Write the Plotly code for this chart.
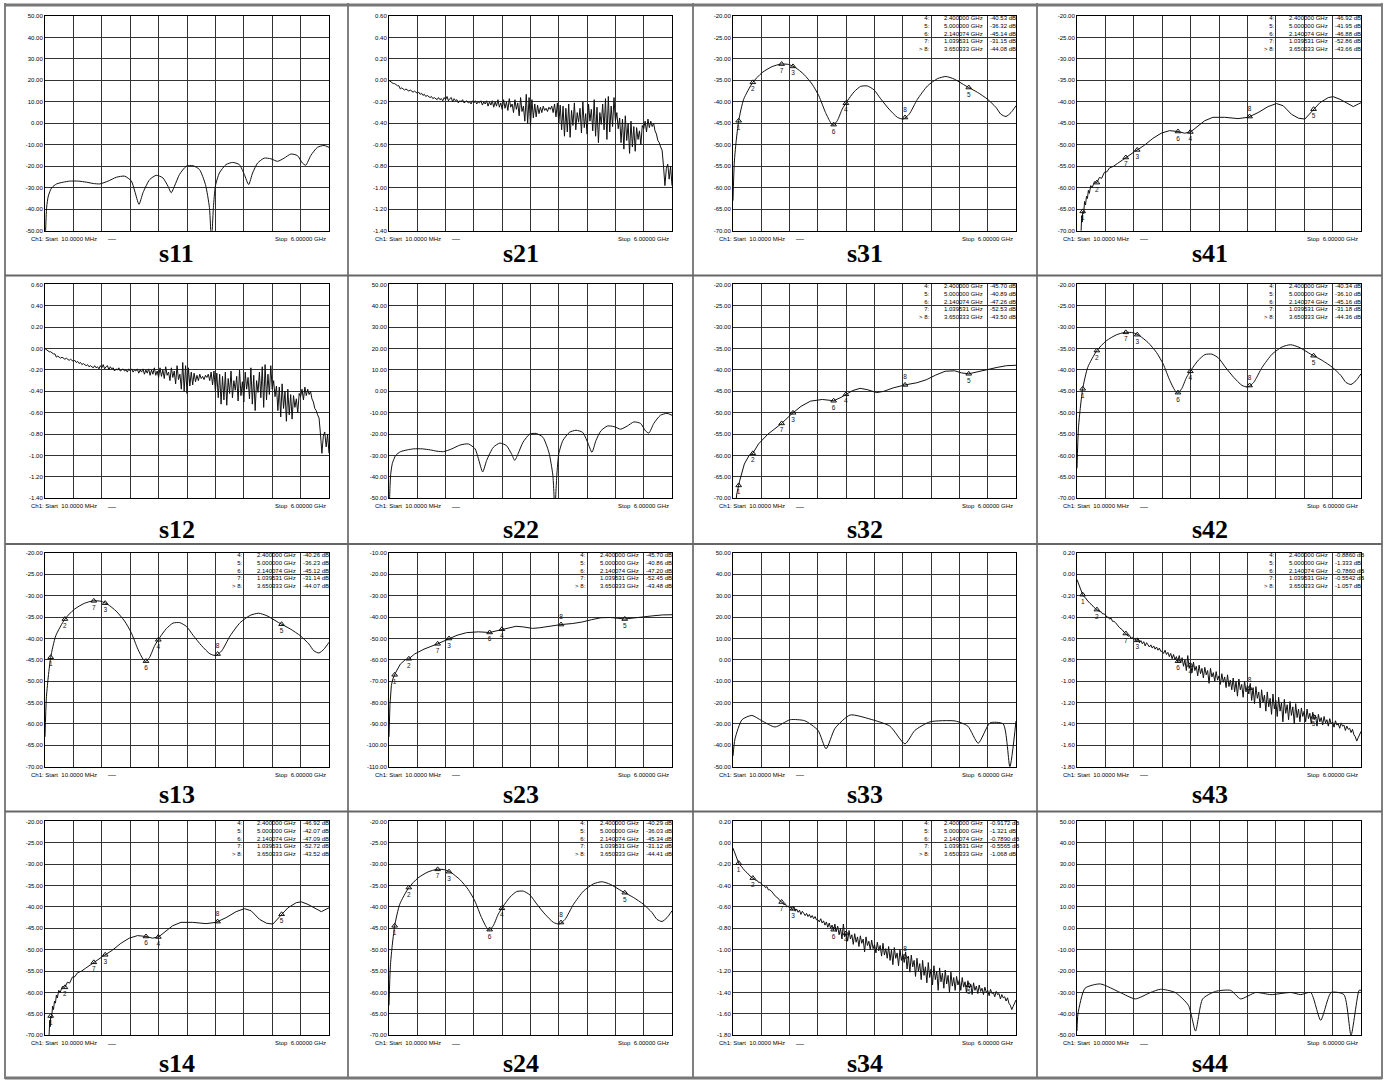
import numpy as np
import plotly.graph_objects as go

W, H = 1387, 1082
F_START, F_STOP = 0.01, 6.0

# ---------------- data (GHz, dB) ----------------
s11_f = [0.01, 0.024, 0.045, 0.08, 0.15, 0.255, 0.395, 0.535, 0.711, 0.886, 1.026, 1.166, 1.341, 1.516, 1.691,
         1.832, 1.902, 1.993, 2.077, 2.217, 2.357, 2.497, 2.602, 2.672, 2.742, 2.847, 2.988, 3.128, 3.268, 3.394,
         3.478, 3.52, 3.562, 3.604, 3.688, 3.828, 3.968, 4.108, 4.214, 4.305, 4.389, 4.494, 4.634, 4.774, 4.914,
         5.054, 5.194, 5.334, 5.44, 5.51, 5.615, 5.755, 5.895, 6.0]
s11_db = [-60, -49.2, -39, -33.8, -30, -28.2, -27.4, -26.9, -26.9, -27.4, -28, -28.2, -26.9, -25.1, -24.6,
          -26.9, -31.5, -37.7, -32.3, -26.2, -24.2, -25.4, -29.2, -32.3, -29.2, -23.8, -20, -19.7, -21.5, -28.5,
          -39.2, -55, -39.2, -29.2, -23.1, -19.2, -18.2, -19.2, -23.8, -28.5, -23.1, -18.5, -16.2, -16.5, -17.7,
          -16.2, -14.3, -15, -18.5, -19.5, -15, -11.2, -10.3, -11.2]

s33_f = [0.01, 0.052, 0.2, 0.41, 0.62, 0.9, 1.22, 1.53, 1.81, 1.98, 2.17, 2.49, 2.91, 3.33, 3.65, 3.86, 4.18,
         4.71, 4.98, 5.2, 5.45, 5.73, 5.87, 6.0]
s33_db = [-45, -37, -28, -26, -28.5, -31.4, -28, -28.5, -33, -41.6, -32, -25.8, -27.7, -31, -39.3, -33, -29,
          -28.6, -31, -39, -29.5, -30, -50, -28.6]

s44_f = [0.01, 0.03, 0.18, 0.5, 0.92, 1.24, 1.56, 1.77, 2.08, 2.36, 2.51, 2.66, 2.93, 3.25, 3.46, 3.78, 4.1,
         4.52, 4.73, 4.94, 5.15, 5.37, 5.64, 5.79, 5.96, 6.0]
s44_db = [-48, -40, -28, -26, -30, -33, -30, -28.5, -30, -36, -48, -33, -29.5, -29, -33, -30, -31,
          -30, -31, -30, -43, -30, -31, -50, -29, -29]

s31_f = [0.01, 0.038, 0.074, 0.13, 0.236, 0.427, 0.625, 0.837, 1.028, 1.19, 1.33, 1.51, 1.686, 1.827, 1.969,
         2.075, 2.132, 2.217, 2.322, 2.429, 2.57, 2.711, 2.853, 2.994, 3.136, 3.313, 3.489, 3.61, 3.737, 3.914,
         4.126, 4.338, 4.515, 4.692, 4.939, 5.187, 5.399, 5.576, 5.682, 5.788, 5.894, 6.0]
s31_db = [-63, -54, -49.5, -44.4, -39.4, -35.5, -33.2, -31.8, -31.2, -31.3, -32, -33.6, -35.9, -38.6, -42.5,
          -44.8, -45.4, -44.4, -41.7, -39.8, -37.7, -36.4, -36.3, -37.2, -39.3, -41.7, -43.6, -44.0, -42.9, -39.4,
          -36.3, -34.6, -34.1, -34.7, -36.3, -37.8, -39.4, -41.3, -42.9, -43.4, -42.5, -40.9]

s41_f = [0.01, 0.06, 0.095, 0.11, 0.12, 0.13, 0.15, 0.17, 0.19, 0.21, 0.23, 0.25, 0.27, 0.30, 0.33,
         0.376, 0.43, 0.482, 0.53, 0.588, 0.64, 0.694, 0.78, 0.87, 1.046, 1.222, 1.433, 1.61, 1.786, 1.962,
         2.138, 2.279, 2.406, 2.526, 2.702, 2.878, 3.125, 3.407, 3.618, 3.829, 4.041, 4.217, 4.358, 4.534, 4.68,
         4.816, 4.957, 5.133, 5.309, 5.415, 5.556, 5.732, 5.838, 5.944, 6.0]
s41_db = [-80, -74, -70.4, -66.5, -68, -65.5, -66, -63.2, -64, -62, -62.5, -60.6, -61.3, -59.5, -60,
          -58.6, -58.8, -57.6, -57.8, -56.4, -56.3, -55.4, -55, -54.3, -52.9, -51.6, -50.1, -48.5, -47.3, -46.7,
          -46.9, -47.3, -47.0, -46, -44.4, -43.6, -43.6, -43.9, -43.6, -42.5, -41.1, -40.4, -40.9, -42.9, -43.8,
          -44.0, -42.2, -40.2, -39, -38.8, -39.4, -40.5, -41.1, -40.5, -40.2]

s32_f = [0.01, 0.03, 0.06, 0.09, 0.15, 0.25, 0.35, 0.43, 0.55, 0.75, 1.04, 1.25, 1.45, 1.65, 1.9,
         2.14, 2.3, 2.4, 2.55, 2.7, 2.85, 3.05, 3.2, 3.4, 3.65, 3.9, 4.1, 4.3, 4.5, 4.7,
         4.85, 5.0, 5.2, 5.4, 5.6, 5.8, 6.0]
s32_db = [-96, -81, -72, -69, -66, -62, -60, -59.5, -57.3, -55, -52.5, -50.3, -48.5, -47.3, -46.9,
          -47.2, -46.4, -45.7, -44.8, -44.3, -44.6, -45.3, -45.0, -44.2, -43.5, -43.0, -42.3, -41.2, -40.3, -40.2,
          -40.7, -40.9, -40.4, -39.8, -39.4, -39.0, -38.9]

# 201-point sweeps (10 MHz .. 6 GHz)
s21_db = [0.00, -0.01, -0.02, -0.03, -0.03, -0.04, -0.05, -0.05, -0.08, -0.07, -0.08, -0.09, -0.08, -0.09, -0.10, -0.09, -0.10, -0.11, -0.10, -0.11,
          -0.12, -0.11, -0.13, -0.12, -0.14, -0.13, -0.15, -0.14, -0.15, -0.16, -0.15, -0.17, -0.16, -0.17, -0.18, -0.16, -0.18, -0.17, -0.19, -0.16,
          -0.18, -0.15, -0.19, -0.17, -0.16, -0.20, -0.17, -0.19, -0.18, -0.21, -0.19, -0.20, -0.18, -0.21, -0.20, -0.19, -0.21, -0.20, -0.22, -0.19,
          -0.21, -0.19, -0.22, -0.20, -0.21, -0.19, -0.23, -0.20, -0.22, -0.19, -0.24, -0.20, -0.23, -0.19, -0.25, -0.20, -0.24, -0.18, -0.25, -0.21,
          -0.27, -0.18, -0.26, -0.20, -0.28, -0.17, -0.25, -0.22, -0.30, -0.18, -0.27, -0.21, -0.33, -0.16, -0.29, -0.24, -0.38, -0.13, -0.40, -0.16,
          -0.42, -0.18, -0.35, -0.22, -0.34, -0.23, -0.31, -0.25, -0.30, -0.24, -0.28, -0.26, -0.29, -0.25, -0.27, -0.24, -0.30, -0.22, -0.34, -0.21,
          -0.40, -0.23, -0.46, -0.24, -0.52, -0.26, -0.48, -0.22, -0.53, -0.28, -0.42, -0.21, -0.46, -0.30, -0.39, -0.26, -0.49, -0.20, -0.44, -0.31,
          -0.50, -0.22, -0.38, -0.27, -0.47, -0.18, -0.52, -0.25, -0.58, -0.30, -0.41, -0.22, -0.46, -0.17, -0.55, -0.15, -0.48, -0.24, -0.43, -0.16,
          -0.38, -0.30, -0.45, -0.35, -0.58, -0.36, -0.64, -0.33, -0.56, -0.40, -0.68, -0.38, -0.62, -0.43, -0.66, -0.44, -0.55, -0.47, -0.60, -0.42,
          -0.45, -0.38, -0.48, -0.36, -0.44, -0.38, -0.43, -0.40, -0.47, -0.50, -0.56, -0.58, -0.62, -0.65, -0.80, -0.98, -0.82, -0.78, -0.92, -0.80, -0.98]

s43_db = [-0.05, -0.09, -0.12, -0.16, -0.19, -0.21, -0.22, -0.24, -0.26, -0.27, -0.28, -0.30, -0.31, -0.32, -0.33, -0.34, -0.35, -0.35, -0.37, -0.37,
          -0.38, -0.40, -0.40, -0.42, -0.41, -0.44, -0.44, -0.45, -0.47, -0.48, -0.50, -0.51, -0.52, -0.54, -0.55, -0.56, -0.58, -0.57, -0.60, -0.59,
          -0.61, -0.60, -0.63, -0.60, -0.64, -0.62, -0.65, -0.63, -0.67, -0.64, -0.66, -0.68, -0.66, -0.69, -0.67, -0.70, -0.68, -0.71, -0.69, -0.72,
          -0.72, -0.74, -0.71, -0.75, -0.73, -0.77, -0.74, -0.79, -0.75, -0.80, -0.77, -0.82, -0.76, -0.83, -0.78, -0.86, -0.80, -0.90, -0.76, -0.88,
          -0.84, -0.92, -0.82, -0.90, -0.86, -0.95, -0.85, -0.93, -0.88, -0.97, -0.87, -0.94, -0.90, -1.02, -0.88, -0.96, -0.92, -1.00, -0.91, -0.99,
          -0.95, -1.03, -0.93, -1.01, -0.96, -1.06, -0.94, -1.05, -0.99, -1.08, -0.97, -1.10, -1.00, -1.14, -0.98, -1.08, -1.03, -1.15, -1.00, -1.10,
          -1.04, -1.12, -1.02, -1.18, -1.06, -1.21, -1.05, -1.16, -1.10, -1.25, -1.08, -1.20, -1.13, -1.28, -1.10, -1.24, -1.16, -1.31, -1.12, -1.26,
          -1.18, -1.33, -1.15, -1.28, -1.20, -1.38, -1.17, -1.30, -1.22, -1.36, -1.19, -1.32, -1.24, -1.40, -1.21, -1.34, -1.26, -1.38, -1.25, -1.33,
          -1.28, -1.38, -1.26, -1.35, -1.30, -1.40, -1.29, -1.36, -1.32, -1.42, -1.31, -1.38, -1.34, -1.41, -1.33, -1.39, -1.36, -1.42, -1.35, -1.40,
          -1.38, -1.43, -1.37, -1.41, -1.40, -1.44, -1.39, -1.42, -1.41, -1.46, -1.42, -1.45, -1.44, -1.48, -1.45, -1.50, -1.52, -1.56, -1.53, -1.49, -1.47]

sweep_f = list(np.linspace(F_START, F_STOP, len(s21_db)))

# marker frequencies (GHz): markers 1..8
marker_f = [0.13, 0.43, 1.28, 2.400000, 5.000000, 2.140074, 1.039531, 3.650333]
table_labels = ["4:", "5:", "6:", "7:", "> 8:"]
table_freqs = ["2.400000 GHz", "5.000000 GHz", "2.140074 GHz", "1.039531 GHz", "3.650333 GHz"]

table_vals = {
    "s31": ["-40.53", "-36.32", "-45.14", "-31.15", "-44.08"],
    "s41": ["-46.92", "-41.95", "-46.88", "-52.86", "-43.66"],
    "s32": ["-45.70", "-40.89", "-47.26", "-52.53", "-43.50"],
    "s42": ["-40.34", "-36.10", "-45.16", "-31.18", "-44.36"],
    "s13": ["-40.26", "-36.23", "-45.12", "-31.14", "-44.07"],
    "s23": ["-45.70", "-40.86", "-47.20", "-52.45", "-43.48"],
    "s43": ["-0.8860", "-1.333", "-0.7860", "-0.5542", "-1.057"],
    "s14": ["-46.92", "-42.07", "-47.09", "-52.72", "-43.52"],
    "s24": ["-40.29", "-36.03", "-45.34", "-31.12", "-44.41"],
    "s34": ["-0.9172", "-1.321", "-0.7890", "-0.5565", "-1.068"],
}

# panel: name -> (freqs, values, y_top, y_bottom, reference level, smooth)
panels = {
    "s11": (s11_f, s11_db, 50, -50, 0, True),
    "s21": (sweep_f, s21_db, 0.6, -1.4, -0.4, False),
    "s31": (s31_f, s31_db, -20, -70, -50, True),
    "s41": (s41_f, s41_db, -20, -70, -50, False),
    "s12": (sweep_f, s21_db, 0.6, -1.4, -0.4, False),
    "s22": (s11_f, s11_db, 50, -50, 0, True),
    "s32": (s32_f, s32_db, -20, -70, -50, False),
    "s42": (s31_f, s31_db, -20, -70, -50, True),
    "s13": (s31_f, s31_db, -20, -70, -50, True),
    "s23": (s32_f, s32_db, -10, -110, -70, False),
    "s33": (s33_f, s33_db, 50, -50, 0, True),
    "s43": (sweep_f, s43_db, 0.2, -1.8, -1.0, False),
    "s14": (s41_f, s41_db, -20, -70, -50, False),
    "s24": (s31_f, s31_db, -20, -70, -50, True),
    "s34": (sweep_f, s43_db, 0.2, -1.8, -1.0, False),
    "s44": (s44_f, s44_db, 50, -50, 0, True),
}

# ---------------- layout geometry (pixels) ----------------
col_left = [45, 389, 733, 1077]
col_right = [329, 672, 1016, 1361]
row_top = [13, 283, 553, 823]
row_bot = [229, 498, 768, 1038]
cell_x = [5, 348, 693, 1037, 1382]
row_sep = [2, 274, 544, 813, 1081]
label_y = [250, 527, 794, 1064]


def px(x):
    return x / W


def py(y):
    return 1 - y / H


def fmt(v):
    s = "%.2f" % v
    return "0.00" if s == "-0.00" else s


fig = go.Figure()
annotations = []
shapes = []
layout_axes = {}
font_small = dict(family="Liberation Sans, Arial", size=6, color="black")

for r in range(4):
    for c in range(4):
        name = "s%d%d" % (c + 1, r + 1)
        k = r * 4 + c + 1
        f, v, ytop, ybot, ref, smooth = panels[name]
        xa = "x" if k == 1 else "x%d" % k
        ya = "y" if k == 1 else "y%d" % k
        L, R, T, B = col_left[c], col_right[c], row_top[r], row_bot[r]
        step = (ytop - ybot) / 10.0
        tv = [ytop - i * step for i in range(11)]
        layout_axes["xaxis" if k == 1 else "xaxis%d" % k] = dict(
            domain=[px(L), px(R)], range=[F_START, F_STOP], anchor=ya,
            tick0=F_START, dtick=(F_STOP - F_START) / 10, showgrid=True, gridcolor="#333333", gridwidth=1,
            showticklabels=False, ticks="", showline=True, mirror=True, linecolor="black", linewidth=1,
            zeroline=False, fixedrange=True)
        layout_axes["yaxis" if k == 1 else "yaxis%d" % k] = dict(
            domain=[py(B), py(T)], range=[ybot, ytop], anchor=xa,
            tickmode="array", tickvals=tv, ticktext=[fmt(t) for t in tv], tickfont=font_small,
            showgrid=True, gridcolor="#333333", gridwidth=1, ticks="", showline=True, mirror=True,
            linecolor="black", linewidth=1, zeroline=False, fixedrange=True)

        fig.add_trace(go.Scatter(
            x=f, y=v, xaxis=xa, yaxis=ya, mode="lines",
            line=dict(color="#111111", width=1, shape="spline" if smooth else "linear", smoothing=0.6),
            hoverinfo="skip", showlegend=False))

        # reference level arrows
        fig.add_trace(go.Scatter(
            x=[F_START - 0.035, F_STOP + 0.035], y=[ref, ref], xaxis=xa, yaxis=ya, mode="markers",
            marker=dict(symbol=["triangle-right", "triangle-left"], size=5, color="black"),
            cliponaxis=False, hoverinfo="skip", showlegend=False))

        if name in table_vals:
            my = list(np.interp(marker_f, f, v))
            fig.add_trace(go.Scatter(
                x=marker_f, y=my, xaxis=xa, yaxis=ya, mode="markers+text",
                marker=dict(symbol="triangle-up-open", size=5, color="#111111", line=dict(width=1)),
                text=[str(i + 1) for i in range(8)],
                textposition=["bottom center"] * 7 + ["top center"],
                textfont=dict(family="Liberation Sans, Arial", size=6.5, color="#111111"),
                cliponaxis=False, hoverinfo="skip", showlegend=False))
            wpx = R - L
            ty = T - 2
            annotations.append(dict(x=px(L + 0.70 * wpx), y=py(ty), xref="paper", yref="paper",
                                    text="<br>".join(table_labels), showarrow=False, xanchor="right",
                                    yanchor="top", align="right", font=font_small, borderpad=0))
            annotations.append(dict(x=px(L + 0.742 * wpx), y=py(ty), xref="paper", yref="paper",
                                    text="<br>".join(table_freqs), showarrow=False, xanchor="left",
                                    yanchor="top", align="left", font=font_small, borderpad=0))
            annotations.append(dict(x=px(L + 0.905 * wpx), y=py(ty), xref="paper", yref="paper",
                                    text="<br>".join(s + " dB" for s in table_vals[name]), showarrow=False,
                                    xanchor="left", yanchor="top", align="left", font=font_small, borderpad=0))

        # footer
        annotations.append(dict(x=px(L - 16), y=py(B + 8), xref="paper", yref="paper",
                                text="Ch1: Start  10.0000 MHz", showarrow=False, xanchor="left",
                                yanchor="middle", font=font_small))
        annotations.append(dict(x=px(L + 61), y=py(B + 8), xref="paper", yref="paper",
                                text="\u2014", showarrow=False, xanchor="left",
                                yanchor="middle", font=dict(family="Liberation Sans", size=8, color="black")))
        annotations.append(dict(x=px(R - 1), y=py(B + 8), xref="paper", yref="paper",
                                text="Stop  6.00000 GHz", showarrow=False, xanchor="right",
                                yanchor="middle", font=font_small))
        # cell label
        annotations.append(dict(x=px((cell_x[c] + cell_x[c + 1]) / 2), y=py(label_y[r] + 2), xref="paper",
                                yref="paper", text="<b>%s</b>" % name, showarrow=False, xanchor="center",
                                yanchor="middle",
                                font=dict(family="Liberation Serif, Times New Roman", size=26, color="black")))

# table borders
for x in cell_x:
    shapes.append(dict(type="line", xref="paper", yref="paper", x0=px(x), x1=px(x), y0=py(0), y1=py(H),
                       line=dict(color="black", width=1)))
for i, y in enumerate(row_sep):
    shapes.append(dict(type="line", xref="paper", yref="paper", x0=px(cell_x[0]), x1=px(cell_x[-1]),
                       y0=py(y), y1=py(y), line=dict(color="#666666" if 0 < i < 4 else "#777777",
                                                     width=2 if 0 < i < 4 else 3)))

fig.update_layout(width=W, height=H, margin=dict(l=0, r=0, t=0, b=0), paper_bgcolor="white",
                  plot_bgcolor="white", annotations=annotations, shapes=shapes, showlegend=False,
                  **layout_axes)

fig.write_html("out.html", config={"displayModeBar": False},
               post_script="document.body.style.margin='0';document.body.style.overflow='hidden';")
